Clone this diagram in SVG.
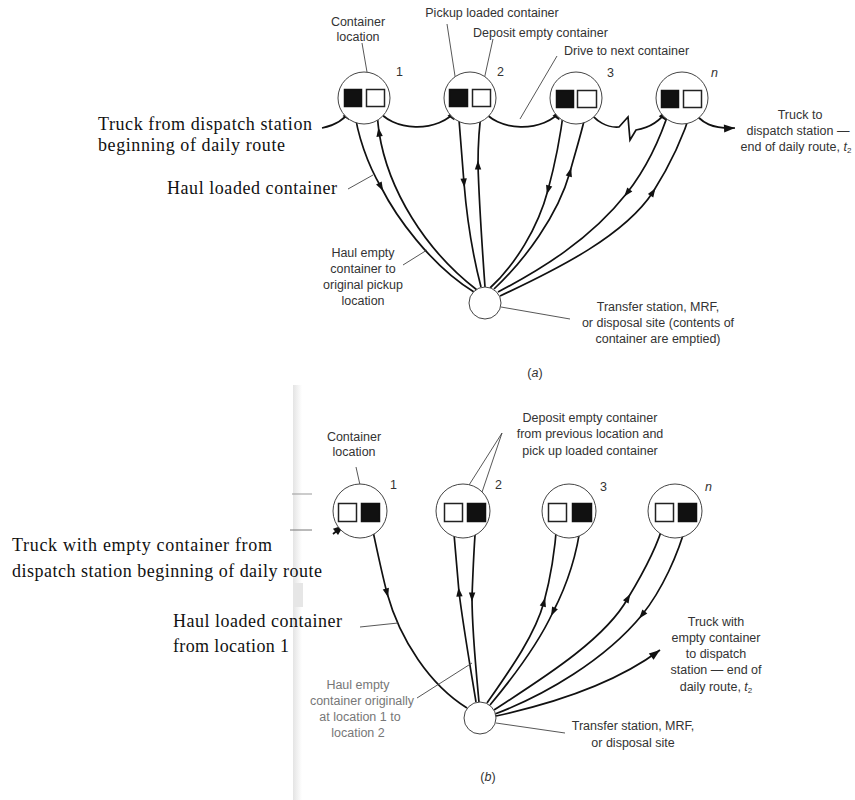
<svg xmlns="http://www.w3.org/2000/svg" width="855" height="800" viewBox="0 0 855 800">
<defs>
<marker id="mid" markerUnits="userSpaceOnUse" viewBox="-8 -5 16 10" refX="0" refY="0" markerWidth="16" markerHeight="10" orient="auto">
<path d="M4.5,0 L-4.5,-3.2 L-4.5,3.2 Z" fill="#111"/>
</marker>
<marker id="end" markerUnits="userSpaceOnUse" viewBox="-12 -6 14 12" refX="0" refY="0" markerWidth="14" markerHeight="12" orient="auto">
<path d="M0,0 L-11,-4 L-11,4 Z" fill="#111"/>
</marker>
<linearGradient id="scan" x1="0" x2="1" y1="0" y2="0">
<stop offset="0" stop-color="#e4e4e4"/>
<stop offset="1" stop-color="#ffffff"/>
</linearGradient>
</defs>
<style>
.loc{fill:#fff;stroke:#444;stroke-width:1}
.blk{fill:#111;stroke:#111;stroke-width:1.5}
.wht{fill:#fff;stroke:#222;stroke-width:1.5}
.sta{fill:#fff;stroke:#444;stroke-width:1}
.ln{fill:none;stroke:#111;stroke-width:1.7}
.mid{marker-mid:url(#mid)}
.arr{marker-end:url(#end)}
.ld{fill:none;stroke:#444;stroke-width:0.9}
.s{font-family:"Liberation Sans",Arial,sans-serif;font-size:12.5px;fill:#333}
.c{text-anchor:middle}
.r{font-family:"Liberation Serif","Times New Roman",serif;font-size:18px;fill:#111}
.g{font-family:"Liberation Sans",Arial,sans-serif;font-size:12.5px;fill:#777;text-anchor:middle}
</style>
<rect width="855" height="800" fill="#fff"/>

<!-- scan artifacts in (b) -->
<rect x="293" y="385" width="9" height="415" fill="url(#scan)"/>
<rect x="293" y="583" width="10" height="24" fill="#e6e6e6"/>
<line x1="292" y1="494" x2="312" y2="494" stroke="#999" stroke-width="1"/>
<line x1="290" y1="530" x2="312" y2="530" stroke="#777" stroke-width="1"/>

<!-- ===== Part (a) ===== -->
<g id="connectors-a">
<path class="ln arr" d="M322,128 Q342,124 352,109"/>
<path class="ln arr" d="M377,108 C390,132 440,134 457,109"/>
<path class="ln arr" d="M482,108 C495,132 545,134 562,109"/>
<path class="ln arr" d="M587,108 C595,122 608,128 619,127 L628,117 L630,140 L636,130 C648,128 660,122 668,109"/>
<path class="ln arr" d="M692,108 C700,124 714,129 735,128"/>

<path class="ln mid" d="M354,107 C357,135 368,165 381,187 C395,215 430,265 474,292"/>
<path class="ln mid" d="M477,290 C425,250 388,190 379,132 C378,124 377,115 377,108"/>
<path class="ln mid" d="M458,107 C460,135 462,160 464,183 C467,220 474,260 481,287"/>
<path class="ln mid" d="M485,287 C482,245 479,200 478,165 C478,140 480,120 482,107"/>
<path class="ln mid" d="M564,108 C560,140 554,168 548,190 C538,228 515,265 490,288"/>
<path class="ln mid" d="M494,289 C525,260 558,215 570,172 C576,150 583,128 587,108"/>
<path class="ln mid" d="M670,108 C660,140 645,170 627,193 C590,240 540,270 498,292"/>
<path class="ln mid" d="M500,296 C560,268 625,235 653,192 C672,162 684,135 692,108"/>

<!-- leader lines -->
<line class="ld" x1="362" y1="43" x2="367" y2="72"/>
<line class="ld" x1="447" y1="24" x2="457" y2="89"/>
<line class="ld" x1="493" y1="39" x2="482" y2="89"/>
<line class="ld" x1="557" y1="56" x2="520" y2="119"/>
<line class="ld" x1="348" y1="189" x2="373" y2="175"/>
<line class="ld" x1="403" y1="265" x2="427" y2="250"/>
<line class="ld" x1="501" y1="307" x2="570" y2="319"/>
</g>

<g id="loc-a1">
<circle class="loc" cx="364" cy="98" r="26"/>
<rect class="blk" x="344.5" y="89.5" width="17" height="17"/>
<rect class="wht" x="366.5" y="89.5" width="18" height="17"/>
<text class="s" x="396" y="76">1</text>
</g>
<g id="loc-a2">
<circle class="loc" cx="470" cy="98" r="26"/>
<rect class="blk" x="449.5" y="89.5" width="18" height="17"/>
<rect class="wht" x="472.5" y="89.5" width="18" height="17"/>
<text class="s" x="497" y="76">2</text>
</g>
<g id="loc-a3">
<circle class="loc" cx="576" cy="98" r="26"/>
<rect class="blk" x="556.5" y="90.5" width="17" height="17"/>
<rect class="wht" x="577.5" y="90.5" width="19" height="17"/>
<text class="s" x="607" y="77">3</text>
</g>
<g id="loc-an">
<circle class="loc" cx="682" cy="98" r="26"/>
<rect class="blk" x="661.5" y="90.5" width="17" height="17"/>
<rect class="wht" x="683.5" y="90.5" width="18" height="17"/>
<text class="s" x="711" y="77" font-style="italic">n</text>
</g>
<g id="station-a">
<circle class="sta" cx="485" cy="303" r="16"/>
</g>

<g id="labels-a">
<text class="s c" x="358" y="26">Container</text>
<text class="s c" x="358" y="41">location</text>
<text class="s c" x="492" y="17">Pickup loaded container</text>
<text class="s" x="473" y="37">Deposit empty container</text>
<text class="s" x="564" y="55">Drive to next container</text>
<text class="r" x="98" y="130" textLength="214">Truck from dispatch station</text>
<text class="r" x="98" y="151" textLength="187">beginning of daily route</text>
<text class="r" x="167" y="194" textLength="170">Haul loaded container</text>
<text class="s c" x="363" y="257">Haul empty</text>
<text class="s c" x="363" y="273">container to</text>
<text class="s c" x="363" y="289">original pickup</text>
<text class="s c" x="363" y="305">location</text>
<text class="s c" x="800" y="119">Truck to</text>
<text class="s c" x="798" y="135">dispatch station —</text>
<text class="s c" x="796" y="151">end of daily route, <tspan font-style="italic">t</tspan><tspan font-size="8" dy="2">2</tspan></text>
<text class="s c" x="658" y="311">Transfer station, MRF,</text>
<text class="s c" x="658" y="327">or disposal site (contents of</text>
<text class="s c" x="658" y="343">container are emptied)</text>
<text class="s c" x="535" y="377">(<tspan font-style="italic">a</tspan>)</text>
</g>

<!-- ===== Part (b) ===== -->
<g id="connectors-b">
<path class="ln arr" d="M333,534 L344,525"/>
<path class="ln mid" d="M371,522 C376,545 381,570 387,593 C400,640 430,685 467,708"/>
<path class="ln mid" d="M476,702 C470,665 463,625 459,592 C457,570 455,545 453,522"/>
<path class="ln mid" d="M476,522 C474,545 473,570 472,597 C472,630 476,670 479,702"/>
<path class="ln mid" d="M487,703 C510,670 535,635 544,602 C550,580 555,550 557,522"/>
<path class="ln mid" d="M581,522 C577,555 567,585 553,612 C540,640 515,675 490,705"/>
<path class="ln mid" d="M494,710 C540,680 605,640 628,598 C645,570 658,545 664,522"/>
<path class="ln mid" d="M687,522 C678,555 662,590 642,615 C605,660 545,695 495,714"/>
<path class="ln arr" d="M496,716 C560,702 620,680 660,650"/>

<line class="ld" x1="356" y1="467" x2="360" y2="485"/>
<line class="ld" x1="502" y1="433" x2="457" y2="504"/>
<line class="ld" x1="502" y1="433" x2="478" y2="504"/>
<line class="ld" x1="360" y1="627" x2="398" y2="623"/>
<line class="ld" x1="417" y1="698" x2="472" y2="663"/>
<line class="ld" x1="496" y1="723" x2="565" y2="733"/>
</g>

<g id="loc-b1">
<circle class="loc" cx="360" cy="511" r="27"/>
<rect class="wht" x="338.5" y="503.5" width="18" height="18"/>
<rect class="blk" x="361.5" y="503.5" width="18" height="18"/>
<text class="s" x="390" y="489">1</text>
</g>
<g id="loc-b2">
<circle class="loc" cx="463" cy="511" r="27"/>
<rect class="wht" x="444.5" y="503.5" width="18" height="18"/>
<rect class="blk" x="467.5" y="503.5" width="18" height="18"/>
<text class="s" x="495" y="489">2</text>
</g>
<g id="loc-b3">
<circle class="loc" cx="569" cy="511" r="27"/>
<rect class="wht" x="548.5" y="503.5" width="18" height="18"/>
<rect class="blk" x="572.5" y="503.5" width="19" height="18"/>
<text class="s" x="600" y="491">3</text>
</g>
<g id="loc-bn">
<circle class="loc" cx="675" cy="511" r="27"/>
<rect class="wht" x="655.5" y="503.5" width="18" height="18"/>
<rect class="blk" x="678.5" y="503.5" width="18" height="18"/>
<text class="s" x="705" y="491" font-style="italic">n</text>
</g>
<g id="station-b">
<circle class="sta" cx="480" cy="718" r="16"/>
</g>

<g id="labels-b">
<text class="s c" x="354" y="441">Container</text>
<text class="s c" x="354" y="456">location</text>
<text class="s c" x="590" y="422">Deposit empty container</text>
<text class="s c" x="590" y="438">from previous location and</text>
<text class="s c" x="590" y="455">pick up loaded container</text>
<text class="r" x="12" y="551" textLength="260">Truck with empty container from</text>
<text class="r" x="12" y="577" textLength="310">dispatch station beginning of daily route</text>
<text class="r" x="173" y="627" textLength="169">Haul loaded container</text>
<text class="r" x="173" y="652" textLength="116">from location 1</text>
<text class="g" x="358" y="689">Haul empty</text>
<text class="g" x="362" y="705">container originally</text>
<text class="g" x="360" y="721">at location 1 to</text>
<text class="g" x="358" y="737">location 2</text>
<text class="s c" x="716" y="626">Truck with</text>
<text class="s c" x="716" y="642">empty container</text>
<text class="s c" x="716" y="658">to dispatch</text>
<text class="s c" x="716" y="674">station — end of</text>
<text class="s c" x="716" y="691">daily route, <tspan font-style="italic">t</tspan><tspan font-size="8" dy="2">2</tspan></text>
<text class="s c" x="633" y="730">Transfer station, MRF,</text>
<text class="s c" x="633" y="747">or disposal site</text>
<text class="s c" x="488" y="781">(<tspan font-style="italic">b</tspan>)</text>
</g>
</svg>
